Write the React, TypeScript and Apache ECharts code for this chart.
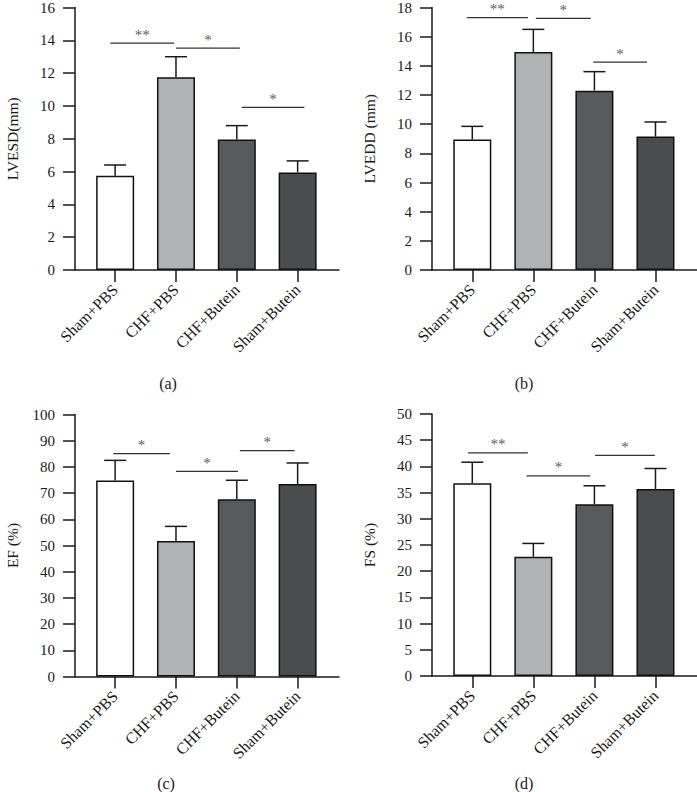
import React, { useEffect, useRef } from "react";
import * as echarts from "echarts";

const categories = ["Sham+PBS", "CHF+PBS", "CHF+Butein", "Sham+Butein"];
const barColors = ["#ffffff", "#b1b2b4", "#58595d", "#4b4c4e"];

const lvesdMean = [5.75, 11.75, 7.95, 5.95];
const lvesdErr = [0.65, 1.25, 0.85, 0.7];
const lveddMean = [8.95, 14.95, 12.3, 9.15];
const lveddErr = [0.9, 1.55, 1.3, 1.0];
const efMean = [74.8, 51.7, 67.7, 73.5];
const efErr = [7.7, 5.6, 7.2, 8.0];
const fsMean = [36.8, 22.75, 32.8, 35.7];
const fsErr = [4.0, 2.55, 3.5, 3.9];

// significance brackets: [fromX, toX, y]
const lvesdSig = [[-0.08, 0.97, 13.83], [1.0, 2.05, 13.52], [2.08, 3.11, 9.91]];
const lvesdStars = ["**", "*", "*"];
const lveddSig = [[-0.09, 0.91, 17.3], [1.04, 1.94, 17.25], [1.98, 2.86, 14.26]];
const lveddStars = ["**", "*", "*"];
const efSig = [[-0.03, 0.9, 85.1], [1.0, 2.02, 78.3], [2.05, 2.95, 86.2]];
const efStars = ["*", "*", "*"];
const fsSig = [[-0.07, 0.91, 42.6], [0.89, 1.93, 38.2], [2.01, 2.99, 42.1]];
const fsStars = ["**", "*", "*"];

const yMaxes = [16, 18, 100, 50];
const yIntervals = [2, 2, 10, 5];
const yNames = ["LVESD(mm)", "LVEDD (mm)", "EF (%)", "FS (%)"];
const panelLabels = ["(a)", "(b)", "(c)", "(d)"];

const FONT = "'Liberation Serif', 'DejaVu Serif', serif";
const INK = "#1a1a1a";

export default function App() {
  const ref = useRef<HTMLDivElement>(null);
  useEffect(() => {
    if (!ref.current) return;
    const chart = echarts.init(ref.current, undefined, { renderer: "svg" });
    const panels = [
      { mean: lvesdMean, err: lvesdErr, sig: lvesdSig, stars: lvesdStars, grid: { left: 75, top: 7, width: 264, height: 263 } },
      { mean: lveddMean, err: lveddErr, sig: lveddSig, stars: lveddStars, grid: { left: 432, top: 7, width: 265, height: 263 } },
      { mean: efMean, err: efErr, sig: efSig, stars: efStars, grid: { left: 75, top: 414.5, width: 264, height: 262 } },
      { mean: fsMean, err: fsErr, sig: fsSig, stars: fsStars, grid: { left: 432, top: 414, width: 265, height: 262 } },
    ];
    const labelPos = [
      { x: 168, y: 383 },
      { x: 524, y: 383 },
      { x: 166, y: 783 },
      { x: 524, y: 783 },
    ];

    const grids: any[] = [];
    const xAxes: any[] = [];
    const yAxes: any[] = [];
    const series: any[] = [];

    panels.forEach((p, i) => {
      grids.push({ ...p.grid, containLabel: false });
      xAxes.push({
        type: "value",
        gridIndex: i,
        min: -0.66,
        max: 3.68,
        splitLine: { show: false },
        axisLine: { show: true, onZero: false, lineStyle: { color: INK, width: 1.5 } },
        axisTick: { show: true, length: 12, customValues: [0, 1, 2, 3], lineStyle: { color: INK, width: 1.5 } },
        axisLabel: {
          show: true,
          customValues: [0, 1, 2, 3],
          rotate: 45,
          margin: 17,
          fontSize: 16,
          fontFamily: FONT,
          color: INK,
          formatter: (v: number) => categories[Math.round(v)] ?? "",
        },
      });
      yAxes.push({
        type: "value",
        gridIndex: i,
        min: 0,
        max: yMaxes[i],
        interval: yIntervals[i],
        name: yNames[i],
        nameLocation: "middle",
        nameGap: 55,
        nameTextStyle: { fontSize: 15.5, fontFamily: FONT, color: INK },
        splitLine: { show: false },
        axisLine: { show: true, onZero: false, lineStyle: { color: INK, width: 1.5 } },
        axisTick: { show: true, length: 12, lineStyle: { color: INK, width: 1.5 } },
        axisLabel: { margin: 20, fontSize: 15, fontFamily: FONT, color: INK },
      });
      series.push({
        type: "bar",
        xAxisIndex: i,
        yAxisIndex: i,
        barWidth: 38,
        data: p.mean.map((m, k) => ({
          value: [k, m],
          itemStyle: { color: barColors[k], borderColor: "#111", borderWidth: 1.5 },
        })),
      });
      series.push({
        type: "custom",
        xAxisIndex: i,
        yAxisIndex: i,
        encode: { x: 0, y: 1 },
        z: 5,
        data: p.mean.map((m, k) => [k, m, p.err[k]]),
        renderItem: (params: any, api: any) => {
          const x = api.value(0);
          const m = api.value(1);
          const e = api.value(2);
          const p0 = api.coord([x, m]);
          const p1 = api.coord([x, m + e]);
          const st = { stroke: INK, lineWidth: 1.5 };
          return {
            type: "group",
            children: [
              { type: "line", shape: { x1: p0[0], y1: p0[1], x2: p1[0], y2: p1[1] }, style: st },
              { type: "line", shape: { x1: p1[0] - 11, y1: p1[1], x2: p1[0] + 11, y2: p1[1] }, style: st },
            ],
          };
        },
      });
      series.push({
        type: "custom",
        xAxisIndex: i,
        yAxisIndex: i,
        encode: { x: [0, 1], y: 2 },
        z: 5,
        data: p.sig,
        renderItem: (params: any, api: any) => {
          const a = api.coord([api.value(0), api.value(2)]);
          const b = api.coord([api.value(1), api.value(2)]);
          return {
            type: "group",
            children: [
              { type: "line", shape: { x1: a[0], y1: a[1], x2: b[0], y2: b[1] }, style: { stroke: "#333", lineWidth: 1.3 } },
              {
                type: "text",
                x: (a[0] + b[0]) / 2,
                y: a[1] - 1,
                style: {
                  text: p.stars[params.dataIndex],
                  fill: "#5a5a5a",
                  fontSize: 15,
                  fontFamily: FONT,
                  align: "center",
                  verticalAlign: "bottom",
                },
              },
            ],
          };
        },
      });
    });

    chart.setOption({
      animation: false,
      backgroundColor: "#ffffff",
      grid: grids,
      xAxis: xAxes,
      yAxis: yAxes,
      series,
      graphic: panelLabels.map((t, i) => ({
        type: "text",
        x: labelPos[i].x,
        y: labelPos[i].y,
        style: { text: t, fontSize: 16, fontFamily: FONT, fill: INK, align: "center", verticalAlign: "middle" },
      })),
    });
    return () => chart.dispose();
  }, []);
  return (
    <div
      ref={ref}
      style={{ position: "fixed", left: 0, top: 0, width: 697, height: 792, background: "#fff" }}
    />
  );
}
